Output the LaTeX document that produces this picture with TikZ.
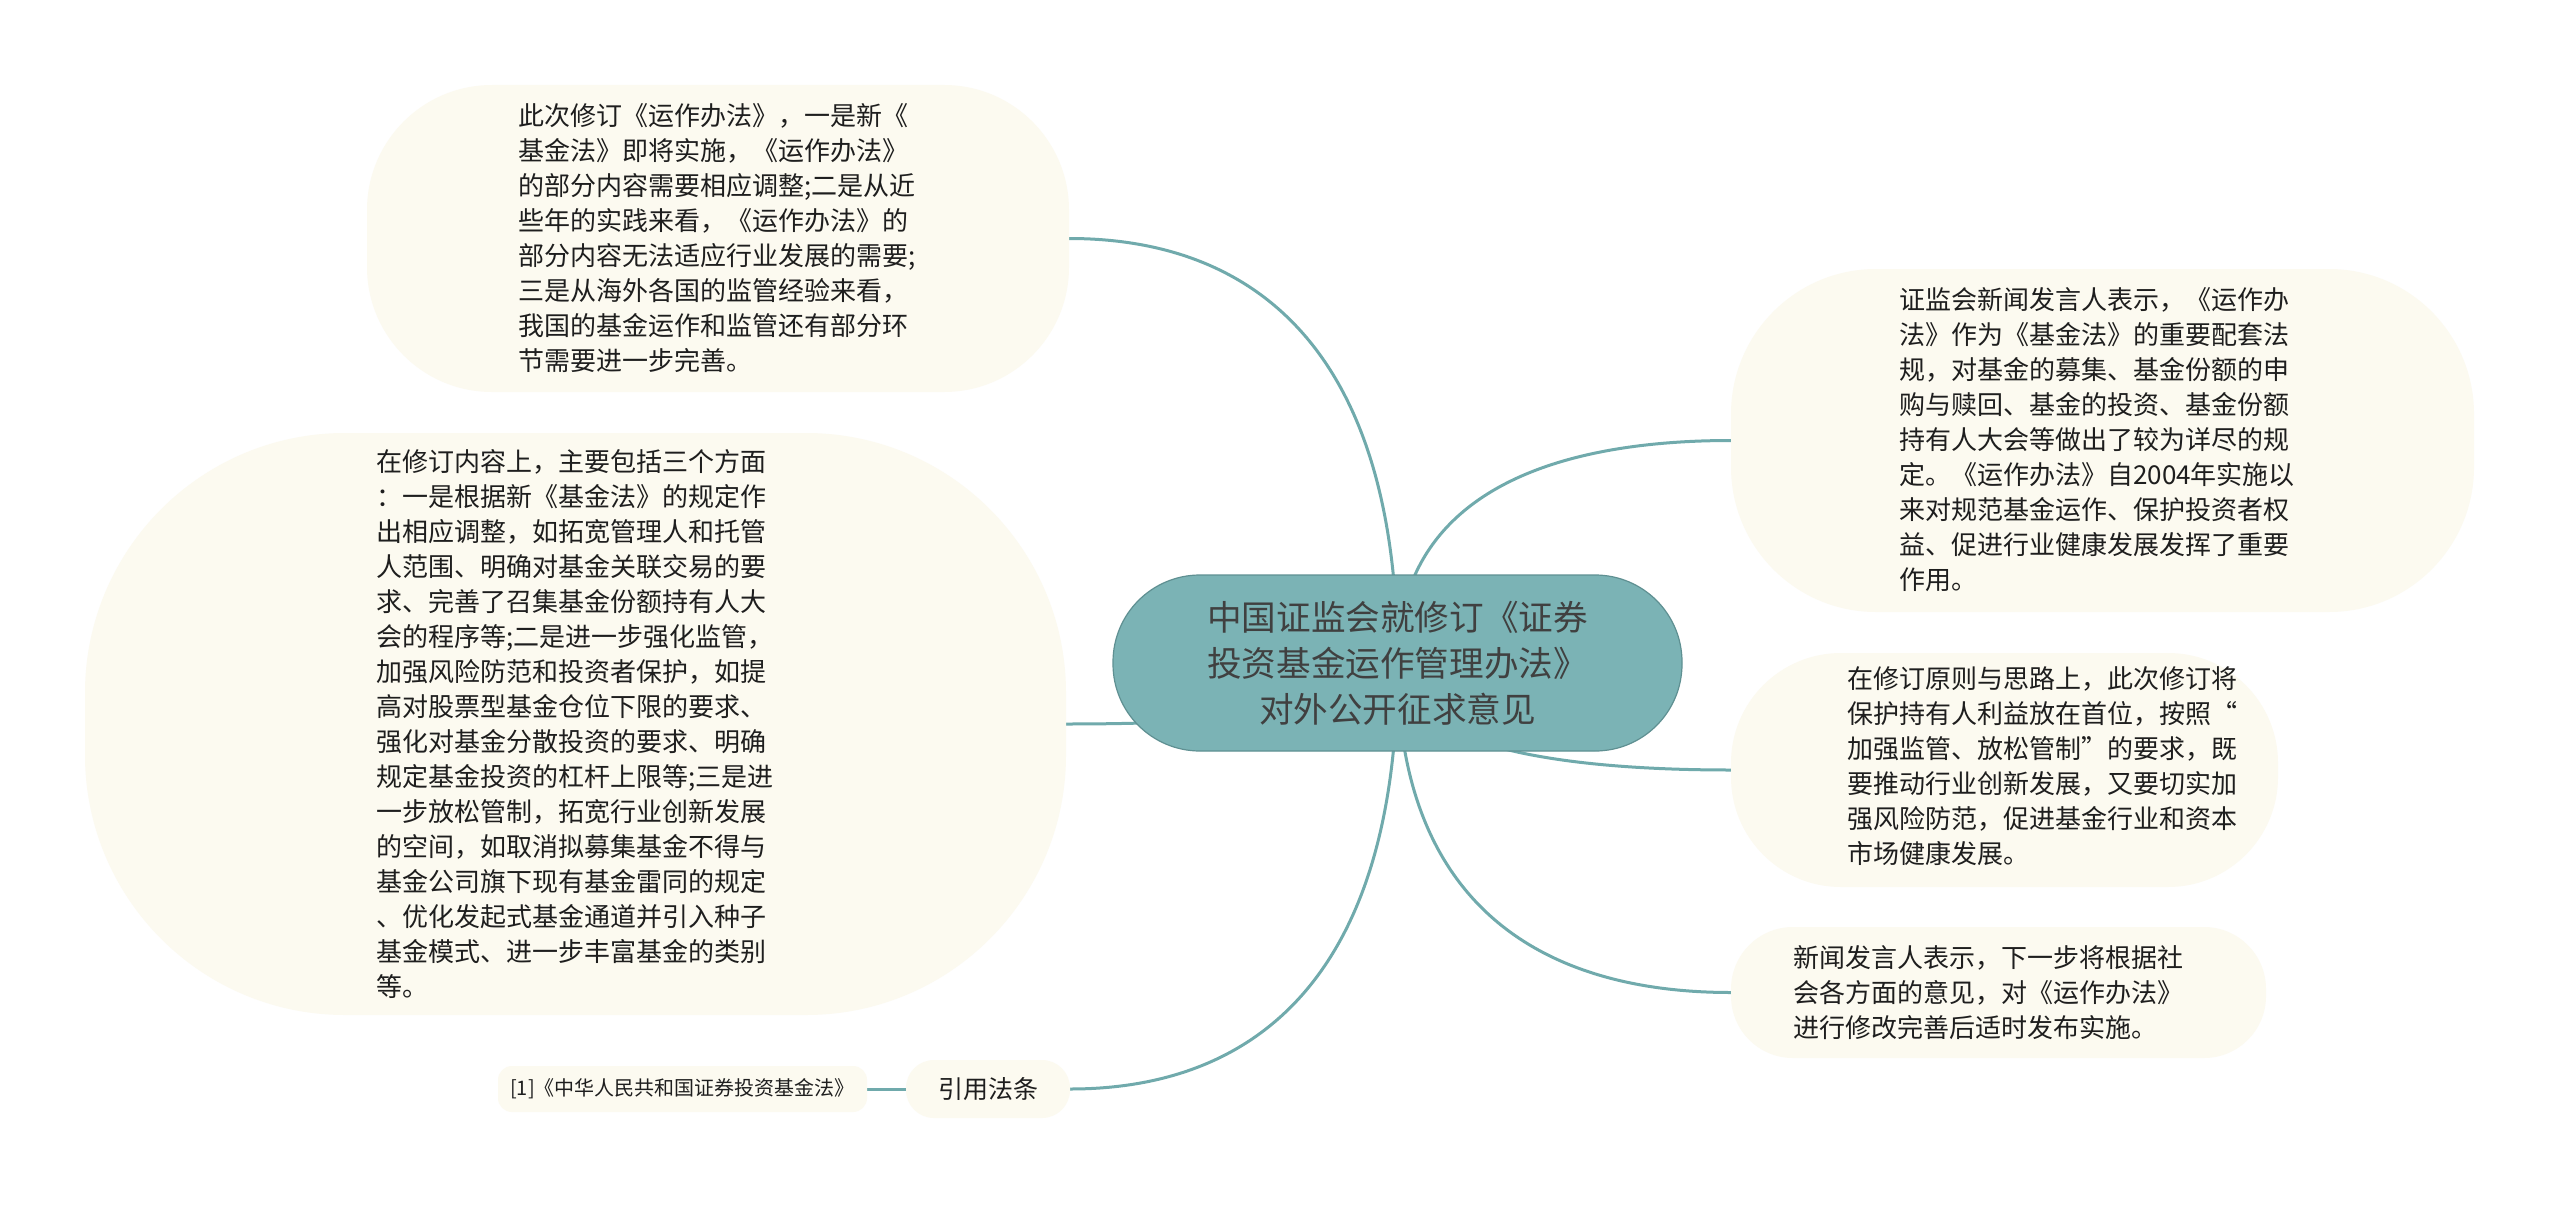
\documentclass[tikz,border=0pt]{standalone}
\usepackage{fontspec}
\setmainfont{Noto Sans CJK SC}
\usetikzlibrary{calc,backgrounds}
\definecolor{tealfill}{RGB}{123,179,181}
\definecolor{tealedge}{RGB}{112,170,172}
\definecolor{cream}{RGB}{252,250,240}
\definecolor{ink}{RGB}{30,30,30}
\newcommand\mmbranch[2]{\draw[edge] (#1.center) .. controls ($(#1.center)!0.75!(#1.center |- #2)$) and ($(#1.center |- #2)!0.45!(#2)$) .. (#2);}
\begin{document}
\begin{tikzpicture}[x=1pt,y=-1pt,
  bubble/.style={fill=cream, draw=none, inner sep=0pt, rectangle, text=ink},
  txt/.style={inner sep=0pt, align=left, anchor=west, text=ink, font=\fontsize{26}{35}\selectfont},
  edge/.style={draw=tealedge, line width=3pt},
  mainbox/.style={fill=tealfill, draw=tealedge!85!black, line width=1.2pt, rounded corners=87pt, minimum width=569pt, minimum height=176pt, inner sep=0pt, align=center, text=ink!85, font=\fontsize{34.6}{46}\selectfont}
]
\useasboundingbox (0,0) rectangle (2560,1207);

% bubbles
\node[bubble, minimum width=702pt, minimum height=307pt, rounded corners=125pt] (tl) at (718,238.5) {};
\node[bubble, minimum width=981pt, minimum height=582pt, rounded corners=260pt] (bl) at (575.5,724) {};
\node[bubble, minimum width=743pt, minimum height=343pt, rounded corners=145pt] (r1) at (2102.5,440.5) {};
\node[bubble, minimum width=547pt, minimum height=234pt, rounded corners=110pt] (r2) at (2004.5,770) {};
\node[bubble, minimum width=535pt, minimum height=131pt, rounded corners=62pt] (r3) at (1998.5,992.5) {};
\node[bubble, minimum width=164pt, minimum height=58pt, rounded corners=28pt, font=\fontsize{25}{30}\selectfont] (yy) at (988,1089) {引用法条};
\node[bubble, minimum width=369pt, minimum height=46pt, rounded corners=14pt, font=\fontsize{20}{24}\selectfont] (ref) at (682.5,1089) {[1]《中华人民共和国证券投资基金法》};

% texts
\node[txt] (ttl) at (518,238.5) {此次修订《运作办法》，一是新《\\基金法》即将实施，《运作办法》\\的部分内容需要相应调整;二是从近\\些年的实践来看，《运作办法》的\\部分内容无法适应行业发展的需要;\\三是从海外各国的监管经验来看，\\我国的基金运作和监管还有部分环\\节需要进一步完善。};
\node[txt] (tbl) at (376,724) {在修订内容上，主要包括三个方面\\：一是根据新《基金法》的规定作\\出相应调整，如拓宽管理人和托管\\人范围、明确对基金关联交易的要\\求、完善了召集基金份额持有人大\\会的程序等;二是进一步强化监管，\\加强风险防范和投资者保护，如提\\高对股票型基金仓位下限的要求、\\强化对基金分散投资的要求、明确\\规定基金投资的杠杆上限等;三是进\\一步放松管制，拓宽行业创新发展\\的空间，如取消拟募集基金不得与\\基金公司旗下现有基金雷同的规定\\、优化发起式基金通道并引入种子\\基金模式、进一步丰富基金的类别\\等。};
\node[txt] (tr1) at (1899,440) {证监会新闻发言人表示，《运作办\\法》作为《基金法》的重要配套法\\规，对基金的募集、基金份额的申\\购与赎回、基金的投资、基金份额\\持有人大会等做出了较为详尽的规\\定。《运作办法》自2004年实施以\\来对规范基金运作、保护投资者权\\益、促进行业健康发展发挥了重要\\作用。};
\node[txt] (tr2) at (1847,766) {在修订原则与思路上，此次修订将\\保护持有人利益放在首位，按照“\\加强监管、放松管制”的要求，既\\要推动行业创新发展，又要切实加\\强风险防范，促进基金行业和资本\\市场健康发展。};
\node[txt] (tr3) at (1793,993) {新闻发言人表示，下一步将根据社\\会各方面的意见，对《运作办法》\\进行修改完善后适时发布实施。};

% central topic
\node[mainbox] (c) at (1397.5,663) {中国证监会就修订《证券\\投资基金运作管理办法》\\对外公开征求意见};

% connectors (behind the nodes, above the white page)
\begin{scope}[on background layer]
\fill[white] (0,0) rectangle (2560,1207);
\mmbranch{c}{tl.east}
\mmbranch{c}{bl.east}
\mmbranch{c}{yy.east}
\mmbranch{c}{r1.west}
\mmbranch{c}{r2.west}
\mmbranch{c}{r3.west}
\draw[edge] (ref.east) -- (yy.west);
\end{scope}
\end{tikzpicture}
\end{document}
